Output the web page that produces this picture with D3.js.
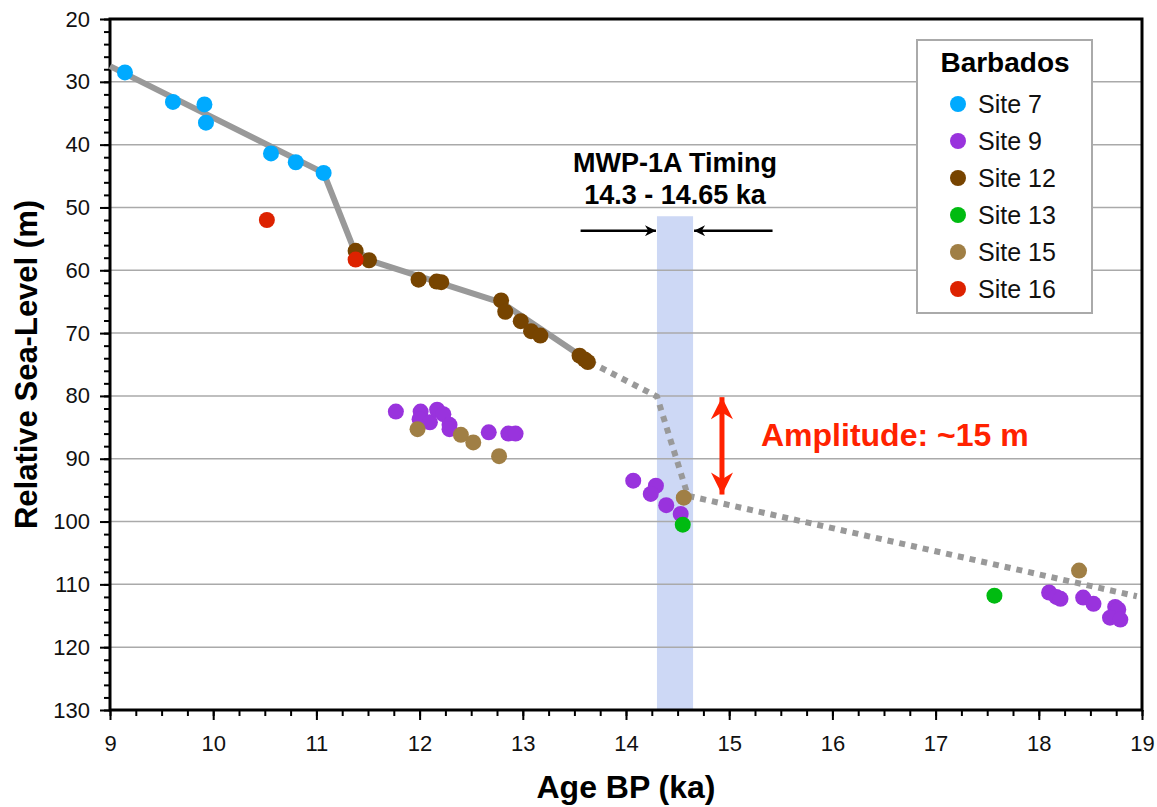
<!DOCTYPE html>
<html>
<head>
<meta charset="utf-8">
<script src="https://cdn.jsdelivr.net/npm/d3@7"></script>
<style>
  body { margin: 0; background: #fff; }
  svg text { font-family: "Liberation Sans", Arial, Helvetica, sans-serif; }
</style>
</head>
<body>
<svg id="chart" width="1157" height="807"></svg>
<script>
// --- Data (age in ka, relative sea level in m) ---
const site7  = [[9.145,28.5],[9.61,33.2],[9.915,33.6],[9.93,36.5],[10.56,41.4],[10.80,42.8],[11.07,44.5]];
const site9  = [[11.77,82.5],[12.01,82.5],[12.0,83.7],[12.10,84.2],[12.17,82.2],[12.23,82.9],[12.29,84.6],[12.29,85.3],
                [12.67,85.8],[12.86,86.0],[12.93,86.0],
                [14.07,93.5],[14.29,94.3],[14.24,95.6],[14.39,97.4],[14.53,98.8],
                [18.10,111.3],[18.17,112.0],[18.21,112.3],[18.43,112.1],[18.53,113.1],[18.74,113.6],[18.77,114.0],[18.69,115.3],[18.79,115.6]];
const site12 = [[11.38,56.9],[11.51,58.4],[11.99,61.5],[12.165,61.8],[12.21,61.9],[12.79,64.8],[12.83,66.6],[12.98,68.1],
                [13.08,69.7],[13.17,70.4],[13.55,73.6],[13.60,74.2],[13.63,74.6]];
const site13 = [[14.55,100.5],[17.57,111.8]];
const site15 = [[11.98,85.3],[12.40,86.2],[12.52,87.4],[12.77,89.6],[14.56,96.2],[18.39,107.8]];
const site16 = [[10.52,52.0],[11.38,58.3]];

const sites = [
  { name: "Site 7",  color: "#00aaff", pts: site7 },
  { name: "Site 9",  color: "#9933dd", pts: site9 },
  { name: "Site 12", color: "#774400", pts: site12 },
  { name: "Site 13", color: "#00bb11", pts: site13 },
  { name: "Site 15", color: "#a07f45", pts: site15 },
  { name: "Site 16", color: "#dd2200", pts: site16 }
];

const solidCurve  = [[9.0,27.5],[11.07,44.5],[11.36,56.5],[11.53,58.5],[12.8,65.2],[13.65,74.6]];
const dashedCurve = [[13.65,74.6],[14.3,80.1],[14.6,95.9],[18.95,111.9]];

const mwpBand = { start: 14.3, end: 14.65, top: 51.4 };
const xTicks = d3.range(9, 20, 1);
const yTicks = d3.range(20, 140, 10);

// --- Layout ---
const svg = d3.select("#chart");
const margin = { left: 110, right: 15, top: 19, bottom: 97 };
const W = 1157, H = 807;

const x = d3.scaleLinear().domain([9, 19]).range([margin.left, W - margin.right]);
const y = d3.scaleLinear().domain([20, 130]).range([margin.top, H - margin.bottom]);

// MWP-1A band
svg.append("rect")
  .attr("x", x(mwpBand.start)).attr("y", y(mwpBand.top))
  .attr("width", x(mwpBand.end) - x(mwpBand.start))
  .attr("height", y(130) - y(mwpBand.top))
  .attr("fill", "#cdd8f5");

// Horizontal gridlines
svg.append("g").selectAll("line")
  .data(yTicks.filter(v => v > 20 && v < 130))
  .enter().append("line")
  .attr("x1", x(9)).attr("x2", x(19))
  .attr("y1", d => y(d)).attr("y2", d => y(d))
  .attr("stroke", "#aaaaaa").attr("stroke-width", 1.5);

// --- Axes ---
const yAxis = d3.axisLeft(y).tickValues(yTicks).tickSize(10).tickPadding(10);
const yMinor = d3.axisLeft(y).tickValues(d3.range(20, 131, 2)).tickSize(6).tickFormat("");
const xAxis = d3.axisBottom(x).tickValues(xTicks).tickSize(10).tickPadding(15);
const xMinor = d3.axisBottom(x).tickValues(d3.range(9, 19.01, 0.25)).tickSize(6).tickFormat("");

function styleAxis(g) {
  g.select(".domain").remove();
  g.selectAll("line").attr("stroke", "#000").attr("stroke-width", 2);
  g.selectAll("text").attr("fill", "#111").style("font-size", "22px");
}

svg.append("g").attr("transform", `translate(${x(9)},0)`).call(yMinor).call(styleAxis);
svg.append("g").attr("transform", `translate(${x(9)},0)`).call(yAxis).call(styleAxis);
svg.append("g").attr("transform", `translate(0,${y(130)})`).call(xMinor).call(styleAxis);
svg.append("g").attr("transform", `translate(0,${y(130)})`).call(xAxis).call(styleAxis);

// Frame
svg.append("rect")
  .attr("x", x(9)).attr("y", y(20))
  .attr("width", x(19) - x(9)).attr("height", y(130) - y(20))
  .attr("fill", "none").attr("stroke", "#000").attr("stroke-width", 3);

// --- Curves ---
const line = d3.line().x(d => x(d[0])).y(d => y(d[1]));

svg.append("path").datum(solidCurve)
  .attr("d", line).attr("fill", "none")
  .attr("stroke", "#999999").attr("stroke-width", 6).attr("stroke-linejoin", "round");

svg.append("path").datum(dashedCurve)
  .attr("d", line).attr("fill", "none")
  .attr("stroke", "#999999").attr("stroke-width", 6).attr("stroke-dasharray", "6,6");

// --- Points ---
sites.forEach(s => {
  svg.append("g").selectAll("circle")
    .data(s.pts)
    .enter().append("circle")
    .attr("cx", d => x(d[0])).attr("cy", d => y(d[1]))
    .attr("r", 8).attr("fill", s.color);
});

// --- Annotations ---
const defs = svg.append("defs");
function marker(id, color, w, h) {
  defs.append("marker")
    .attr("id", id).attr("viewBox", "0 0 10 10")
    .attr("refX", 10).attr("refY", 5)
    .attr("markerUnits", "userSpaceOnUse")
    .attr("markerWidth", w).attr("markerHeight", h)
    .attr("orient", "auto-start-reverse")
    .append("path").attr("d", "M0,0 L10,5 L0,10 L3,5 Z").attr("fill", color);
}
marker("arrBlack", "#000", 15, 11);
marker("arrRed", "#ff2200", 28, 22);

const timingMid = (mwpBand.start + mwpBand.end) / 2;
svg.append("text").attr("x", x(timingMid)).attr("y", 172)
  .attr("text-anchor", "middle").style("font-size", "27px").style("font-weight", "bold")
  .text("MWP-1A Timing");
svg.append("text").attr("x", x(timingMid)).attr("y", 204)
  .attr("text-anchor", "middle").style("font-size", "27px").style("font-weight", "bold")
  .text("14.3 - 14.65 ka");

svg.append("line")
  .attr("x1", x(13.56)).attr("x2", x(mwpBand.start) - 1)
  .attr("y1", y(53.7)).attr("y2", y(53.7))
  .attr("stroke", "#000").attr("stroke-width", 2.5).attr("marker-end", "url(#arrBlack)");
svg.append("line")
  .attr("x1", x(15.42)).attr("x2", x(mwpBand.end) + 1)
  .attr("y1", y(53.7)).attr("y2", y(53.7))
  .attr("stroke", "#000").attr("stroke-width", 2.5).attr("marker-end", "url(#arrBlack)");

svg.append("line")
  .attr("x1", x(14.93)).attr("x2", x(14.93))
  .attr("y1", y(80.2)).attr("y2", y(95.7))
  .attr("stroke", "#ff2200").attr("stroke-width", 5)
  .attr("marker-start", "url(#arrRed)").attr("marker-end", "url(#arrRed)");

svg.append("text").attr("x", 761).attr("y", 446)
  .attr("fill", "#ff2200").style("font-size", "32px").style("font-weight", "bold")
  .text("Amplitude: ~15 m");

// --- Legend ---
const legend = svg.append("g").attr("transform", "translate(917,40)");
legend.append("rect").attr("width", 175).attr("height", 273)
  .attr("fill", "#fff").attr("stroke", "#aaaaaa").attr("stroke-width", 2);
legend.append("text").attr("x", 88).attr("y", 32).attr("text-anchor", "middle")
  .style("font-size", "28px").style("font-weight", "bold").text("Barbados");
const items = legend.selectAll("g.item").data(sites).enter().append("g")
  .attr("class", "item")
  .attr("transform", (d, i) => `translate(0,${64 + i * 37})`);
items.append("circle").attr("cx", 41).attr("cy", 0).attr("r", 8).attr("fill", d => d.color);
items.append("text").attr("x", 61).attr("y", 9).style("font-size", "25px").attr("fill", "#111")
  .text(d => d.name);

// --- Axis titles ---
svg.append("text")
  .attr("transform", `translate(37,${(y(20) + y(130)) / 2}) rotate(-90)`)
  .attr("text-anchor", "middle").style("font-size", "31px").style("font-weight", "bold")
  .text("Relative Sea-Level (m)");
svg.append("text")
  .attr("x", (x(9) + x(19)) / 2).attr("y", 798)
  .attr("text-anchor", "middle").style("font-size", "32px").style("font-weight", "bold")
  .text("Age BP (ka)");
</script>
</body>
</html>
